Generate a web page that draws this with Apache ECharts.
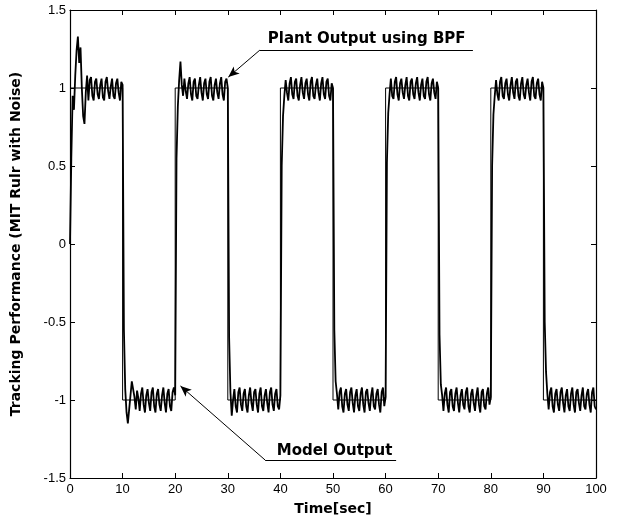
<!DOCTYPE html>
<html>
<head>
<meta charset="utf-8">
<script src="https://cdn.jsdelivr.net/npm/echarts@6/dist/echarts.min.js"></script>
<style>
html,body{margin:0;padding:0;background:#fff;}
#chart{width:619px;height:523px;}
</style>
</head>
<body>
<div id="chart"></div>
<script>
// ---- data ----
var xTicks = [0, 10, 20, 30, 40, 50, 60, 70, 80, 90, 100];
var yTicks = [-1.5, -1, -0.5, 0, 0.5, 1, 1.5];
var timeStep = 0.25; // sec between plant samples
// Plant output using BPF, sampled every 0.25 s from t = 0 to t = 100
var plantOutput = [
  // 0 .. 10
  0, 0.55, 0.95, 0.86, 1.08, 1.24, 1.33, 1.16, 1.26, 1.0, 0.82, 0.77, 0.97, 1.08, 0.92, 1.05, 1.07, 0.95, 0.92, 1.04,
  1.06, 0.96, 0.93, 1.02, 1.06, 0.94, 0.92, 1.04, 1.07, 0.98, 0.93, 1.01, 1.06, 0.95, 0.93, 1.03, 1.06, 0.97, 0.92, 1.04, 1.02,
  // 10.25 .. 20
  -0.55, -0.93, -1.08, -1.15, -1.06, -0.97, -0.88, -0.87, -0.98, -1.06, -0.94, -0.99, -1.07, -0.96, -0.92, -1.03, -1.08, -0.97, -0.93, -1.02,
  -1.07, -0.95, -0.92, -1.04, -1.08, -0.96, -0.93, -1.03, -1.07, -0.97, -0.92, -1.02, -1.08, -0.96, -0.93, -1.04, -1.07, -0.95, -0.92, -0.97,
  // 20.25 .. 30
  0.55, 0.88, 1.05, 1.17, 1.02, 0.95, 1.06, 0.98, 0.93, 1.03, 1.07, 0.96, 0.92, 1.04, 1.06, 0.95, 0.93, 1.02, 1.07, 0.97,
  0.92, 1.03, 1.06, 0.96, 0.93, 1.04, 1.07, 0.95, 0.92, 1.02, 1.06, 0.97, 0.93, 1.03, 1.07, 0.96, 0.92, 1.04, 1.06, 1.0,
  // 30.25 .. 40
  -0.6, -0.95, -1.1, -1.0, -0.93, -1.04, -1.08, -0.95, -0.92, -1.03, -1.07, -0.96, -0.93, -1.04, -1.08, -0.97, -0.92, -1.02, -1.07, -0.95,
  -0.93, -1.03, -1.08, -0.96, -0.92, -1.04, -1.07, -0.97, -0.93, -1.02, -1.08, -0.95, -0.92, -1.03, -1.07, -0.96, -0.93, -1.04, -1.06, -0.97,
  // 40.25 .. 50
  0.5, 0.82, 0.95, 1.05, 0.97, 0.92, 1.03, 1.07, 0.96, 0.93, 1.04, 1.06, 0.95, 0.92, 1.02, 1.07, 0.97, 0.93, 1.03, 1.06,
  0.96, 0.92, 1.04, 1.07, 0.95, 0.93, 1.02, 1.06, 0.97, 0.92, 1.03, 1.07, 0.96, 0.93, 1.04, 1.06, 0.95, 0.92, 1.03, 1.0,
  // 50.25 .. 60
  -0.55, -0.88, -0.96, -1.06, -0.95, -0.92, -1.04, -1.08, -0.96, -0.93, -1.03, -1.07, -0.95, -0.92, -1.02, -1.08, -0.97, -0.93, -1.04, -1.07,
  -0.96, -0.92, -1.03, -1.08, -0.95, -0.93, -1.02, -1.07, -0.97, -0.92, -1.04, -1.06, -0.96, -0.93, -1.03, -1.08, -0.95, -0.92, -1.04, -0.98,
  // 60.25 .. 70
  0.52, 0.84, 0.96, 1.06, 0.95, 0.93, 1.04, 1.07, 0.96, 0.92, 1.03, 1.06, 0.97, 0.93, 1.02, 1.07, 0.95, 0.92, 1.04, 1.06,
  0.96, 0.93, 1.03, 1.07, 0.97, 0.92, 1.02, 1.06, 0.95, 0.93, 1.04, 1.07, 0.96, 0.92, 1.03, 1.06, 0.97, 0.93, 1.04, 1.0,
  // 70.25 .. 80
  -0.58, -0.9, -0.97, -1.07, -0.96, -0.92, -1.03, -1.08, -0.95, -0.93, -1.04, -1.07, -0.96, -0.92, -1.02, -1.08, -0.97, -0.93, -1.03, -1.06,
  -0.95, -0.92, -1.04, -1.08, -0.96, -0.93, -1.02, -1.07, -0.97, -0.92, -1.03, -1.08, -0.95, -0.93, -1.04, -1.06, -0.96, -0.92, -1.03, -0.98,
  // 80.25 .. 90
  0.5, 0.83, 0.95, 1.05, 0.96, 0.92, 1.04, 1.07, 0.95, 0.93, 1.03, 1.06, 0.96, 0.92, 1.02, 1.07, 0.97, 0.93, 1.04, 1.06,
  0.95, 0.92, 1.03, 1.07, 0.96, 0.93, 1.02, 1.06, 0.97, 0.92, 1.04, 1.07, 0.95, 0.93, 1.03, 1.06, 0.96, 0.92, 1.04, 1.0,
  // 90.25 .. 100
  -0.5, -0.82, -0.96, -1.06, -0.95, -0.92, -1.04, -1.08, -0.96, -0.93, -1.03, -1.07, -0.95, -0.92, -1.02, -1.08, -0.97, -0.93, -1.04, -1.07,
  -0.96, -0.92, -1.03, -1.08, -0.95, -0.93, -1.02, -1.07, -0.97, -0.92, -1.04, -1.06, -0.96, -0.93, -1.03, -1.08, -0.95, -0.92, -1.04, -1.06
];
// Model output: square wave, level held between switching times
var modelSwitchTimes = [0, 10, 20, 30, 40, 50, 60, 70, 80, 90, 100];
var modelLevels = [1, -1, 1, -1, 1, -1, 1, -1, 1, -1];

// ---- annotation placement (data coordinates) ----
var plantNote = {text: 'Plant Output using BPF', textAt: [56.4, 1.311], lineStart: 76.6, elbow: [36.1, 1.243], tip: [30.1, 1.07]};
var modelNote = {text: 'Model Output', textAt: [50.3, -1.327], lineStart: 62.0, elbow: [37.1, -1.385], tip: [21.0, -0.91]};

// ---- build series data ----
var plantData = plantOutput.map(function (v, i) { return [i * timeStep, v]; });
var modelData = [];
for (var i = 0; i < modelLevels.length; i++) {
  modelData.push([modelSwitchTimes[i], modelLevels[i]]);
  modelData.push([modelSwitchTimes[i + 1], modelLevels[i]]);
}

function noteLines(n) {
  return [
    [{coord: [n.lineStart, n.elbow[1]], symbol: 'none'}, {coord: n.elbow, symbol: 'none'}],
    [{coord: n.elbow, symbol: 'none'}, {coord: n.tip, symbol: 'arrow', symbolSize: [7, 11]}]
  ];
}

var tickFont = {fontFamily: 'Liberation Sans, Arial, sans-serif', fontSize: 13, color: '#000'};
var chart = echarts.init(document.getElementById('chart'), null, {renderer: 'canvas'});
var axisLine = {show: true, onZero: false, lineStyle: {color: '#000', width: 1.2}};
var option = {
  backgroundColor: '#fff',
  animation: false,
  grid: {left: 70, right: 23, top: 10, bottom: 45, show: false},
  xAxis: [{
    type: 'value', min: xTicks[0], max: xTicks[xTicks.length - 1], interval: 10,
    position: 'bottom',
    axisLine: axisLine,
    axisTick: {show: true, inside: true, length: 5, lineStyle: {color: '#000'}},
    axisLabel: Object.assign({margin: 5}, tickFont),
    splitLine: {show: false},
    name: 'Time[sec]', nameLocation: 'middle', nameGap: 24,
    nameTextStyle: {fontFamily: 'DejaVu Sans, sans-serif', fontWeight: 'bold', fontSize: 14, color: '#000'}
  }, {
    type: 'value', min: xTicks[0], max: xTicks[xTicks.length - 1], interval: 10,
    position: 'top',
    axisLine: axisLine,
    axisTick: {show: true, inside: true, length: 5, lineStyle: {color: '#000'}},
    axisLabel: {show: false},
    splitLine: {show: false}
  }],
  yAxis: [{
    type: 'value', min: yTicks[0], max: yTicks[yTicks.length - 1], interval: 0.5,
    position: 'left',
    axisLine: axisLine,
    axisTick: {show: true, inside: true, length: 5, lineStyle: {color: '#000'}},
    axisLabel: Object.assign({margin: 4}, tickFont),
    splitLine: {show: false},
    name: 'Tracking Performance (MIT Rulr with Noise)', nameLocation: 'middle', nameGap: 47,
    nameTextStyle: {fontFamily: 'DejaVu Sans, sans-serif', fontWeight: 'bold', fontSize: 14, color: '#000'}
  }, {
    type: 'value', min: yTicks[0], max: yTicks[yTicks.length - 1], interval: 0.5,
    position: 'right',
    axisLine: axisLine,
    axisTick: {show: true, inside: true, length: 5, lineStyle: {color: '#000'}},
    axisLabel: {show: false},
    splitLine: {show: false}
  }],
  series: [{
    name: 'Model Output', type: 'line', data: modelData, xAxisIndex: 0, yAxisIndex: 0,
    showSymbol: false, symbol: 'none', silent: true,
    lineStyle: {color: '#000', width: 1},
    markLine: {
      silent: true, symbol: ['none', 'none'], animation: false,
      label: {show: false},
      lineStyle: {color: '#000', width: 1, type: 'solid'},
      emphasis: {disabled: true},
      data: noteLines(plantNote).concat(noteLines(modelNote))
    }
  }, {
    name: 'Plant Output using BPF', type: 'line', data: plantData, xAxisIndex: 0, yAxisIndex: 0,
    showSymbol: false, symbol: 'none', silent: true,
    lineStyle: {color: '#000', width: 1.8}
  }]
};
chart.setOption(option);

function noteText(n) {
  var p = chart.convertToPixel({gridIndex: 0}, n.textAt);
  return {
    type: 'text', x: p[0], y: p[1], silent: true,
    style: {text: n.text, fill: '#000', font: 'bold 15px "DejaVu Sans", sans-serif', align: 'center', verticalAlign: 'middle'}
  };
}
chart.setOption({graphic: [noteText(plantNote), noteText(modelNote)]});
</script>
</body>
</html>
